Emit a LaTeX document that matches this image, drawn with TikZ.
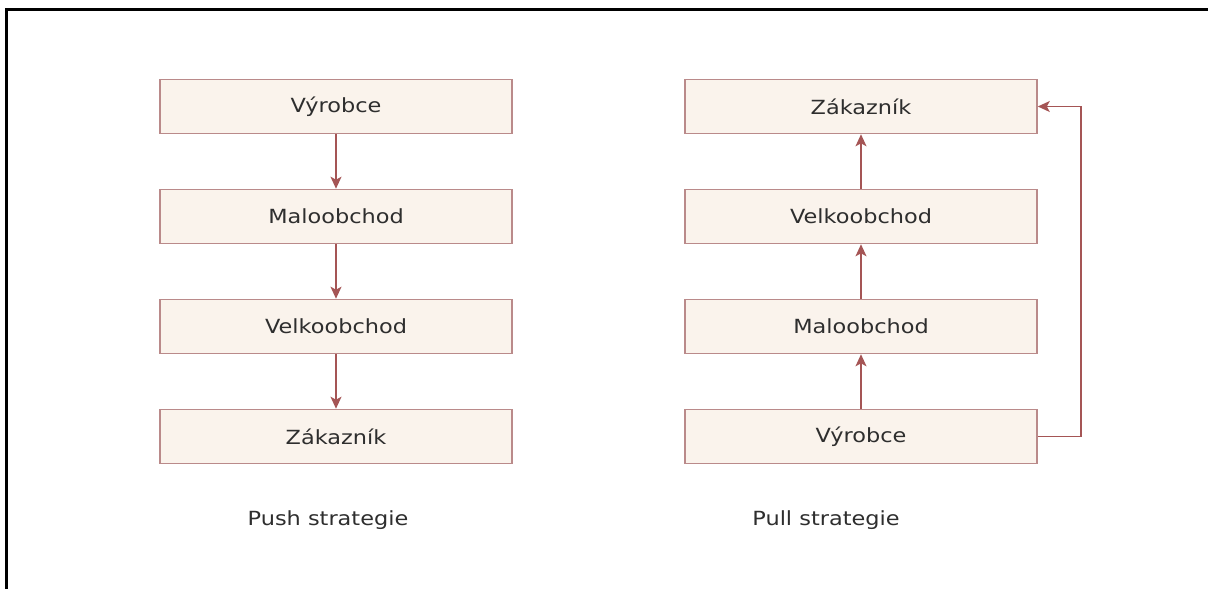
\documentclass[tikz,border=0pt]{standalone}
\usepackage{fontspec}
\setmainfont{DejaVu Sans}[FakeStretch=1.15]
\usetikzlibrary{arrows.meta}
\definecolor{boxfill}{HTML}{FAF3EC}
\definecolor{boxline}{HTML}{BA8A8A}
\definecolor{arrcol}{HTML}{A55555}
\definecolor{txt}{HTML}{2E2E2E}
\begin{document}
\begin{tikzpicture}[x=1pt,y=-1pt,
  stage/.style={draw=boxline, line width=1.6pt, fill=boxfill, minimum width=352pt, minimum height=54pt, inner sep=0pt, text=txt, font=\fontsize{19.5pt}{22pt}\selectfont},
  flow/.style={draw=arrcol, line width=1.5pt, -{Stealth[length=12pt,width=11pt,inset=3pt]}},
  caption/.style={text=txt, font=\fontsize{19.5pt}{22pt}\selectfont}]
\useasboundingbox (0,0) rectangle (1208,589);
\fill[white] (0,0) rectangle (1208,589);
\draw[black, line width=2.2pt] (6.5,589) -- (6.5,9.5) -- (1208,9.5);
% Push
\node[stage] (a1) at (336,106.5) {Výrobce};
\node[stage] (a2) at (336,216.5) {Maloobchod};
\node[stage] (a3) at (336,326.5) {Velkoobchod};
\node[stage] (a4) at (336,436.5) {Zákazník};
\draw[flow] (a1) -- (a2);
\draw[flow] (a2) -- (a3);
\draw[flow] (a3) -- (a4);
\node[caption] (pushl) at (328,520) {Push strategie};
% Pull
\node[stage] (b1) at (861,106.5) {Zákazník};
\node[stage] (b2) at (861,216.5) {Velkoobchod};
\node[stage] (b3) at (861,326.5) {Maloobchod};
\node[stage] (b4) at (861,436.5) {Výrobce};
\draw[flow] (b2) -- (b1);
\draw[flow] (b3) -- (b2);
\draw[flow] (b4) -- (b3);
\draw[flow] (b4.east) -- ++(43,0) |- (b1.east);
\node[caption] (pulll) at (826,520) {Pull strategie};
\end{tikzpicture}
\end{document}
